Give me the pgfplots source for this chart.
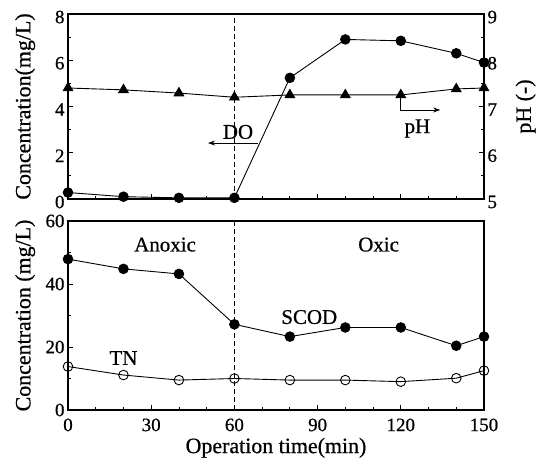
\documentclass[border=0pt]{standalone}
\usepackage{fontspec}
\setmainfont{Liberation Serif}[FakeBold=0.7]
\usepackage{pgfplots}
\pgfplotsset{compat=1.18}
\usetikzlibrary{arrows.meta}
\begin{document}
\begin{tikzpicture}
\useasboundingbox (0,0) rectangle (539bp,-465bp);
\pgfplotsset{
  every axis/.append style={
    scale only axis, width=416bp,
    xmin=0, xmax=150,
    font=\fontsize{22}{23}\selectfont,
    /pgf/number format/assume math mode=true,
    tick label style={font=\fontsize{19}{19}\selectfont},
    axis line style={line width=1.1pt},
    major tick length=5bp, minor tick length=3bp,
    tick style={line width=0.8pt, black},
    xtick={0,30,...,150},
    minor xtick={10,20,40,50,70,80,100,110,130,140},
  },
}
% ---------- Top panel, left axis (DO) ----------
\begin{axis}[
  at={(68bp,-199bp)}, anchor=south west, height=185bp,
  ymin=0, ymax=8, ytick={0,2,4,6,8}, minor ytick={1,3,5,7},
  xticklabels={}, xtick pos=bottom, ytick pos=left,
  yticklabel style={yshift=-3bp},
  ylabel={Concentration(mg/L)},
  every axis y label/.style={at={(axis description cs:-0.103,0.5)}, rotate=90, anchor=center},
  clip=false,
]
\addplot[black, line width=0.9pt, mark=*, mark size=4.8bp] coordinates {
 (0,0.28) (20,0.1) (40,0.05) (60,0.05) (80,5.24) (100,6.9) (120,6.84) (140,6.3) (150,5.9)};
\draw[dash pattern=on 5bp off 3bp, line width=0.8pt] (axis cs:60,0) -- (axis cs:60,8);
\draw[-{Stealth[length=7bp,width=5bp]}, line width=0.7pt] (axis cs:68.5,2.42) -- (axis cs:50.5,2.42);
\node[font=\fontsize{21}{22}\selectfont] at (axis cs:61.3,2.9) {DO};
\draw[-{Stealth[length=7bp,width=5bp]}, line width=0.7pt] (axis cs:120,4.5) -- (axis cs:120,3.85) -- (axis cs:134.2,3.85);
\node[font=\fontsize{21}{22}\selectfont] at (axis cs:126,3.05) {pH};
\end{axis}
% ---------- Top panel, right axis (pH) ----------
\begin{axis}[
  at={(68bp,-199bp)}, anchor=south west, height=185bp,
  ymin=5, ymax=9, ytick={5,6,7,8,9}, minor ytick={5.5,6.5,7.5,8.5},
  axis x line=none, axis y line*=right,
  yticklabel style={yshift=-3bp},
  ylabel={pH (-)},
  every axis y label/.style={at={(axis description cs:1.1,0.5)}, rotate=90, anchor=center},
  clip=false,
]
\addplot[black, line width=0.9pt, mark=triangle*, mark size=5.5bp] coordinates {
 (0,7.4) (20,7.36) (40,7.29) (60,7.2) (80,7.25) (100,7.25) (120,7.25) (140,7.38) (150,7.4)};
\end{axis}
% ---------- Bottom panel ----------
\begin{axis}[
  at={(68bp,-410bp)}, anchor=south west, height=189bp,
  ymin=0, ymax=60, ytick={0,20,40,60}, minor ytick={10,30,50},
  xtick pos=bottom, ytick pos=left,
  xticklabel style={yshift=-5bp},
  ylabel={Concentration (mg/L)},
  every axis y label/.style={at={(axis description cs:-0.103,0.5)}, rotate=90, anchor=center},
  xlabel={Operation time(min)},
  every axis x label/.style={at={(axis description cs:0.5,-0.2)}, anchor=center},
  clip=false,
]
\addplot[black, line width=0.9pt, mark=*, mark size=4.8bp] coordinates {
 (0,47.9) (20,44.8) (40,43.2) (60,27.2) (80,23.3) (100,26.2) (120,26.2) (140,20.4) (150,23.3)};
\addplot[black, line width=0.9pt, mark=o, mark size=4.8bp, mark options={fill=white, line width=0.9pt}] coordinates {
 (0,13.8) (20,11.1) (40,9.5) (60,10) (80,9.5) (100,9.5) (120,9) (140,10.1) (150,12.5)};
\draw[dash pattern=on 5bp off 3bp, line width=0.8pt] (axis cs:60,0) -- (axis cs:60,60);
\begin{scope}[every node/.style={font=\fontsize{21}{22}\selectfont}]
\node at (axis cs:35,52.5) {Anoxic};
\node at (axis cs:112,52.5) {Oxic};
\node at (axis cs:87,29.5) {SCOD};
\node at (axis cs:20,16.5) {TN};
\end{scope}
\end{axis}
\end{tikzpicture}
\end{document}
